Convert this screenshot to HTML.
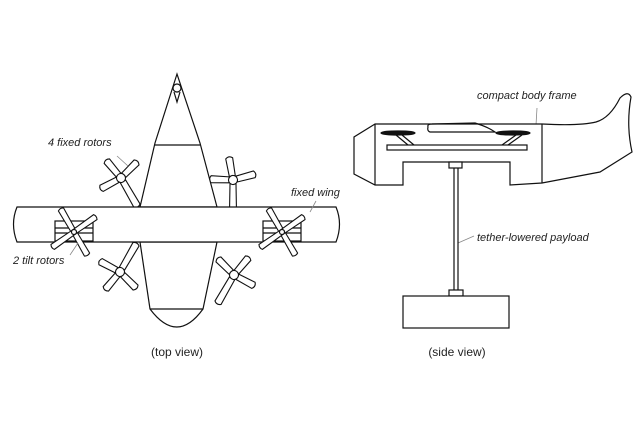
<!DOCTYPE html>
<html><head><meta charset="utf-8"><style>
html,body{margin:0;padding:0;background:#fff;width:640px;height:426px;overflow:hidden}
svg{display:block}
text{font-family:"Liberation Sans",sans-serif;fill:#222}
</style></head><body>
<svg width="640" height="426" viewBox="0 0 640 426" xmlns="http://www.w3.org/2000/svg">
<defs>
<g id="b1"><path d="M4,-3 L22,-3.5 Q25,0 22,3.5 L4,3 Z" fill="#fff" stroke="#111" stroke-width="1.1"/></g>
<g id="b2"><path d="M4,-3 L32,-3.5 Q35,0 32,3.5 L4,3 Z" fill="#fff" stroke="#111" stroke-width="1.1"/></g>
<g id="rotor">
<use href="#b1" transform="rotate(-70)"/>
<use href="#b1" transform="rotate(15)"/>
<use href="#b2" transform="rotate(120)"/>
<use href="#b1" transform="rotate(212)"/>
<circle r="4.5" fill="#fff" stroke="#111" stroke-width="1.1"/>
</g>
<g id="tblade"><path d="M0,-2.5 L26,-3 Q28,0 26,3 L0,2.5 Z" fill="#fff" stroke="#111" stroke-width="1.1"/></g>
</defs>
<g fill="none" stroke="#111" stroke-width="1.2">
<use href="#rotor" transform="translate(121,178) rotate(-60)"/>
<use href="#rotor" transform="translate(233,180) rotate(-30)" />
<use href="#rotor" transform="translate(120,272) rotate(60) scale(1,-1)"/>
<use href="#rotor" transform="translate(234,275) rotate(-120) scale(1,-1)"/>
<path d="M177,74 L155,143 L140,207 L217,207 L200,143 Z" fill="#fff"/>
<line x1="155" y1="145" x2="200" y2="145"/>
<path d="M140,242 L150,309 Q177,345 203,309 L217,242 Z" fill="#fff"/>
<line x1="150" y1="309" x2="203" y2="309"/>
<circle cx="177" cy="88" r="4" fill="#fff"/>
<path d="M174,92 L177,102 L180,92"/>
<path d="M336,207 L17,207 Q10,224 17,242 L336,242 Q343,224 336,207 Z" fill="#fff"/>
<rect x="55" y="221" width="38" height="20" fill="#fff"/>
<line x1="55" y1="228" x2="93" y2="228"/><line x1="55" y1="233" x2="93" y2="233"/>
<rect x="263" y="221" width="38" height="20" fill="#fff"/>
<line x1="263" y1="228" x2="301" y2="228"/><line x1="263" y1="233" x2="301" y2="233"/>
<g transform="translate(74,232)">
<use href="#tblade" transform="rotate(-120)"/><use href="#tblade" transform="rotate(60)"/>
<use href="#tblade" transform="rotate(-35)"/><use href="#tblade" transform="rotate(145)"/>
<circle r="2.5" fill="#fff"/></g>
<g transform="translate(282,232)">
<use href="#tblade" transform="rotate(-120)"/><use href="#tblade" transform="rotate(60)"/>
<use href="#tblade" transform="rotate(-35)"/><use href="#tblade" transform="rotate(145)"/>
<circle r="2.5" fill="#fff"/></g>
<g stroke="#888" stroke-width="0.8">
<line x1="117" y1="156" x2="128" y2="166"/>
<line x1="78" y1="243" x2="70" y2="255"/>
<line x1="316" y1="201" x2="310" y2="212"/>
<line x1="537" y1="108" x2="535" y2="142"/>
<line x1="458" y1="243" x2="474" y2="236"/>
</g>
<path d="M375,124 L354,137 L354,174 L375,185 L403,185 L403,162 L510,162 L510,185 L542,183 L600,172 L632,152 Q626,125 631,97 Q628,90 620,98 Q610,118 596,122 Q580,126 542,124 Z" fill="#fff"/>
<line x1="375" y1="124" x2="375" y2="185"/>
<line x1="542" y1="124" x2="542" y2="183"/>
<rect x="387" y="145" width="140" height="5" fill="#fff"/>
<path d="M428,127 Q427,124 432,124 L475,123 Q488,127 495,132 L430,132 Q427,131 428,127 Z"/>
<ellipse cx="398" cy="133" rx="17" ry="2" fill="#111"/>
<ellipse cx="513" cy="133" rx="17" ry="2" fill="#111"/>
<path d="M396,135 L408,145 M402,135 L414,145"/>
<path d="M516,135 L502,145 M522,135 L508,145"/>
<rect x="449" y="162" width="13" height="6" fill="#fff"/>
<line x1="454" y1="168" x2="454" y2="291"/><line x1="458" y1="168" x2="458" y2="291"/>
<rect x="449" y="290" width="14" height="6" fill="#fff"/>
<rect x="403" y="296" width="106" height="32" fill="#fff"/>
</g>
<g font-style="italic" font-size="11">
<text x="48" y="146">4 fixed rotors</text>
<text x="13" y="264">2 tilt rotors</text>
<text x="291" y="196">fixed wing</text>
<text x="477" y="99">compact body frame</text>
<text x="477" y="241">tether-lowered payload</text>
</g>
<g font-size="12">
<text x="177" y="356" text-anchor="middle">(top view)</text>
<text x="457" y="356" text-anchor="middle">(side view)</text>
</g>
</svg>
</body></html>
